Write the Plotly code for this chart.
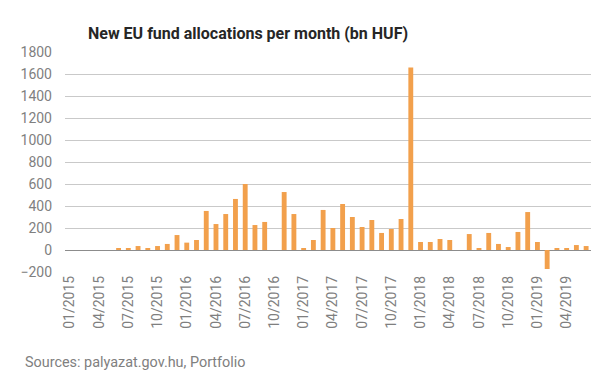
import plotly.graph_objects as go

# Months 01/2015 .. 06/2019
months = [f"{m:02d}/{y}" for y in range(2015, 2020) for m in range(1, 13)][:54]

values = [
    0, 0, 0, 0, 0, 10, 10, 36, 10, 36, 55, 136,          # 2015
    67, 91, 355, 236, 327, 464, 600, 227, 255, 0, 527, 327,  # 2016
    18, 91, 364, 200, 418, 300, 209, 273, 155, 191, 282, 1660,  # 2017
    73, 73, 100, 91, 0, 145, 10, 155, 55, 27, 164, 345,  # 2018
    73, -173, 18, 10, 45, 36,                            # 2019
]

tick_labels = months[::3]
y_ticks = list(range(-200, 1801, 200))

title_text = "New EU fund allocations per month (bn HUF)"
source_text = "Sources: palyazat.gov.hu, Portfolio"

# page body has an 8px margin; figure is sized/offset to compensate
W, H = 597, 370

fig = go.Figure(
    go.Bar(
        x=months,
        y=values,
        marker=dict(color="#F2A04C", line=dict(width=0)),
        width=0.5,
    )
)

fig.update_layout(
    width=W,
    height=H,
    margin=dict(l=49, r=14, t=44, b=106),
    paper_bgcolor="white",
    plot_bgcolor="white",
    showlegend=False,
    font=dict(family="Roboto", color="#7f7f7f", size=14),
    title=dict(
        text=title_text,
        font=dict(family="Roboto", size=16, color="#262626", weight="bold"),
        xref="container",
        x=240 / W,
        xanchor="center",
        yref="container",
        y=1 - 25 / H,
        yanchor="middle",
    ),
    annotations=[
        dict(
            text=source_text,
            xref="paper",
            yref="paper",
            x=(6 - 49) / 534,
            y=-90 / 220,
            xanchor="left",
            yanchor="middle",
            showarrow=False,
            font=dict(family="Roboto", size=14.4, color="#808080"),
        )
    ],
)

fig.update_xaxes(
    type="category",
    categoryorder="array",
    categoryarray=months,
    tickmode="array",
    tickvals=tick_labels,
    ticktext=tick_labels,
    tickangle=-90,
    showgrid=False,
    showline=False,
    ticks="",
    tickfont=dict(family="Roboto", size=14, color="#7f7f7f"),
)

fig.update_yaxes(
    range=[-200, 1800],
    tickmode="array",
    tickvals=y_ticks,
    showgrid=True,
    gridcolor="#c9c9c9",
    gridwidth=1,
    zeroline=True,
    zerolinecolor="#8c8c8c",
    zerolinewidth=1,
    showline=False,
    ticks="",
    ticklabelstandoff=12,
    tickfont=dict(family="Roboto", size=14, color="#7f7f7f"),
)

fig.write_html("out.html")
